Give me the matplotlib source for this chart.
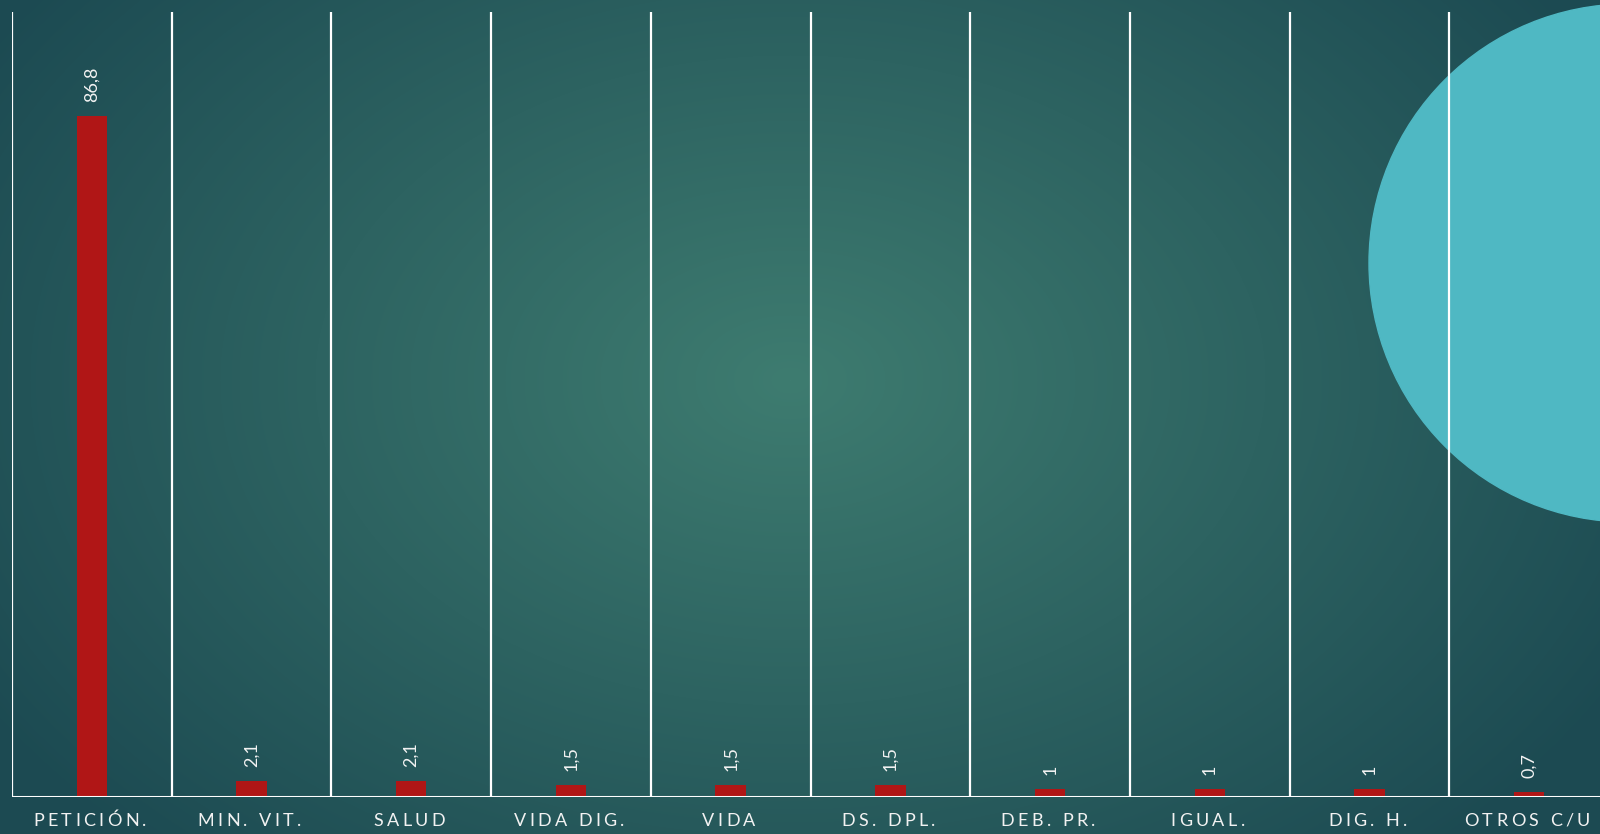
import numpy as np
import matplotlib.pyplot as plt
from matplotlib.patches import Circle
from matplotlib.font_manager import FontProperties
from matplotlib.transforms import offset_copy

categories = ["PETICIÓN.", "MIN. VIT.", "SALUD", "VIDA DIG.", "VIDA",
              "DS. DPL.", "DEB. PR.", "IGUAL.", "DIG. H.", "OTROS C/U"]
values = [86.8, 2.1, 2.1, 1.5, 1.5, 1.5, 1, 1, 1, 0.7]
labels = ["86,8", "2,1", "2,1", "1,5", "1,5", "1,5", "1", "1", "1", "0,7"]

plt.rcParams['font.family'] = ['Lato', 'DejaVu Sans']

fig = plt.figure(figsize=(16, 8.34), dpi=100)

# background: radial gradient
bg = fig.add_axes([0, 0, 1, 1])
bg.set_axis_off()
yy, xx = np.mgrid[0:834, 0:1600]
d = np.sqrt(((xx - 790) / 950.0) ** 2 + ((yy - 380) / 650.0) ** 2)
d = np.clip(d, 0, 1)
c_in = np.array([62, 124, 112]) / 255
c_out = np.array([28, 74, 82]) / 255
img = c_in[None, None, :] * (1 - d[..., None]) + c_out[None, None, :] * d[..., None]
bg.imshow(img, extent=[0, 1600, 834, 0], aspect='auto')
bg.add_patch(Circle((1628, 263), 259, color='#4fb8c3', zorder=2))
bg.set_xlim(0, 1600)
bg.set_ylim(834, 0)

# chart axes (extends slightly past the right edge)
W, H = 1600, 834
x0, x1 = 12, 1609
y0, y1 = 797, 12
ax = fig.add_axes([x0 / W, 1 - y0 / H, (x1 - x0) / W, (y0 - y1) / H])
ax.patch.set_alpha(0)
n = len(categories)
xpos = np.arange(n)
ax.bar(xpos, values, width=0.19, color='#b01616', zorder=3)
for i in range(n + 1):
    ax.axvline(i - 0.5, color='white', lw=1.6, zorder=2)
ax.axhline(0, color='white', lw=2.2, zorder=4)
for x, v, t in zip(xpos, values, labels):
    ax.annotate(t, (x, v), xytext=(0, 10), textcoords='offset points',
                rotation=90, ha='center', va='bottom', color='#f2f2f2',
                fontsize=13)
ax.set_xlim(-0.5, n - 0.5)
ax.set_ylim(0, 100)
ax.set_xticks([])
ax.set_yticks([])
for s in ax.spines.values():
    s.set_visible(False)

# letter-spaced category labels
fp = FontProperties(family=['Lato', 'DejaVu Sans'], size=13)
renderer = fig.canvas.get_renderer()
track = 3.4  # px between letters
trans = ax.get_xaxis_transform()
for x, cat in zip(xpos, categories):
    widths = [renderer.get_text_width_height_descent(ch, fp, ismath=False)[0] for ch in cat]
    total = sum(widths) + track * (len(cat) - 1)
    off = -total / 2 - 2
    for ch, w in zip(cat, widths):
        tr = offset_copy(trans, fig=fig, x=off * 72 / fig.dpi, y=0, units='points')
        ax.text(x, -0.03, ch, transform=tr, ha='left', va='center',
                color='#f2f2f2', fontproperties=fp, clip_on=False)
        off += w + track

fig.savefig('out.png', dpi=100)
